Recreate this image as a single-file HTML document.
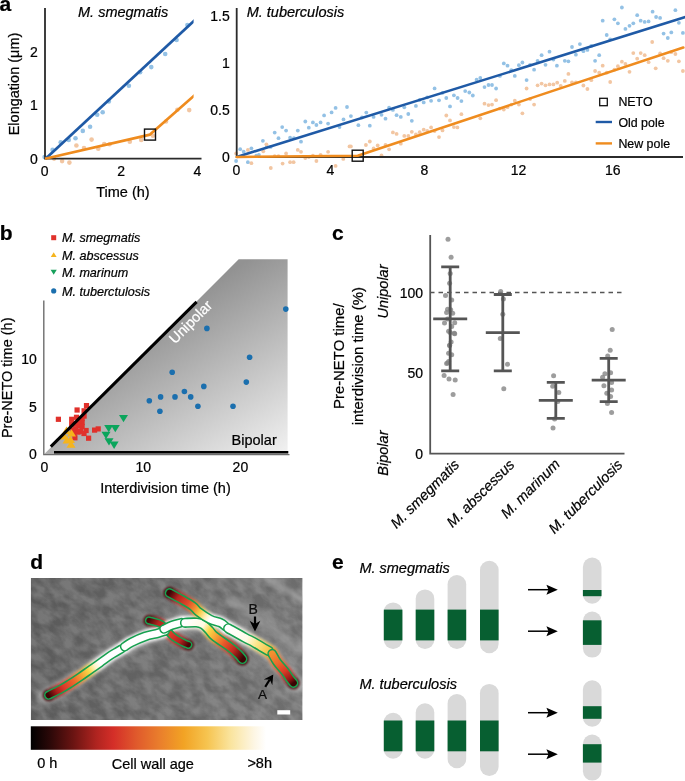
<!DOCTYPE html><html><head><meta charset="utf-8"><style>html,body{margin:0;padding:0;background:#fff;overflow:hidden}svg{display:block;will-change:transform}text{stroke:#000;stroke-width:0.22px}</style></head><body>
<svg width="685" height="781" viewBox="0 0 685 781" font-family='"Liberation Sans", sans-serif'>
<defs>
<linearGradient id="tri" gradientUnits="userSpaceOnUse" x1="245" y1="262" x2="352.4" y2="431.1"><stop offset="0" stop-color="#929292"/><stop offset="1" stop-color="#fafafa"/></linearGradient>
<linearGradient id="cbar" x1="0" y1="0" x2="1" y2="0"><stop offset="0" stop-color="#000000"/><stop offset="0.08" stop-color="#2a0808"/><stop offset="0.18" stop-color="#6a1412"/><stop offset="0.28" stop-color="#b02420"/><stop offset="0.35" stop-color="#d42e28"/><stop offset="0.45" stop-color="#e05a2c"/><stop offset="0.55" stop-color="#ea7f2c"/><stop offset="0.65" stop-color="#f2a324"/><stop offset="0.75" stop-color="#f6c450"/><stop offset="0.85" stop-color="#fae49e"/><stop offset="0.95" stop-color="#fdf6e4"/><stop offset="1" stop-color="#ffffff"/></linearGradient>
</defs>
<text x="-0.6" y="11.3" font-size="21" font-weight="bold">a</text>
<text x="78" y="16.8" font-size="14.5" font-style="italic">M. smegmatis</text>
<text x="246.7" y="17" font-size="14.5" font-style="italic">M. tuberculosis</text>
<circle cx="52.6" cy="149.9" r="2.3" fill="#93c1e5"/>
<circle cx="60.7" cy="142.3" r="2.3" fill="#93c1e5"/>
<circle cx="68.7" cy="139.9" r="2.3" fill="#93c1e5"/>
<circle cx="75.5" cy="138.2" r="2.3" fill="#93c1e5"/>
<circle cx="82.8" cy="130.9" r="2.3" fill="#93c1e5"/>
<circle cx="90.1" cy="126.8" r="2.3" fill="#93c1e5"/>
<circle cx="97.2" cy="114.8" r="2.3" fill="#93c1e5"/>
<circle cx="102.7" cy="112.2" r="2.3" fill="#93c1e5"/>
<circle cx="108.8" cy="101.4" r="2.3" fill="#93c1e5"/>
<circle cx="128.9" cy="85.8" r="2.3" fill="#93c1e5"/>
<circle cx="140.1" cy="72.2" r="2.3" fill="#93c1e5"/>
<circle cx="151.3" cy="67.1" r="2.3" fill="#93c1e5"/>
<circle cx="165.2" cy="54" r="2.3" fill="#93c1e5"/>
<circle cx="176.6" cy="40" r="2.3" fill="#93c1e5"/>
<circle cx="187.4" cy="25" r="2.3" fill="#93c1e5"/>
<circle cx="44.6" cy="157" r="2.3" fill="#93c1e5"/>
<circle cx="54.1" cy="158.6" r="2.3" fill="#f2c6a2"/>
<circle cx="62.1" cy="161.1" r="2.3" fill="#f2c6a2"/>
<circle cx="69.4" cy="162.6" r="2.3" fill="#f2c6a2"/>
<circle cx="76.4" cy="145.5" r="2.3" fill="#f2c6a2"/>
<circle cx="84" cy="148" r="2.3" fill="#f2c6a2"/>
<circle cx="91.6" cy="139.6" r="2.3" fill="#f2c6a2"/>
<circle cx="98.3" cy="148.8" r="2.3" fill="#f2c6a2"/>
<circle cx="104.2" cy="144" r="2.3" fill="#f2c6a2"/>
<circle cx="109.6" cy="144.3" r="2.3" fill="#f2c6a2"/>
<circle cx="129.8" cy="141.8" r="2.3" fill="#f2c6a2"/>
<circle cx="141.2" cy="139.9" r="2.3" fill="#f2c6a2"/>
<circle cx="152.9" cy="135.7" r="2.3" fill="#f2c6a2"/>
<circle cx="166" cy="121.5" r="2.3" fill="#f2c6a2"/>
<circle cx="177.4" cy="109.8" r="2.3" fill="#f2c6a2"/>
<circle cx="189.2" cy="110.1" r="2.3" fill="#f2c6a2"/>
<circle cx="236.1" cy="161" r="1.9" fill="#93c1e5"/>
<circle cx="240.2" cy="149.2" r="1.9" fill="#93c1e5"/>
<circle cx="243.7" cy="151.7" r="1.9" fill="#93c1e5"/>
<circle cx="247.9" cy="162.2" r="1.9" fill="#93c1e5"/>
<circle cx="251.4" cy="148.3" r="1.9" fill="#93c1e5"/>
<circle cx="256.3" cy="155.7" r="1.9" fill="#93c1e5"/>
<circle cx="258.9" cy="154.8" r="1.9" fill="#93c1e5"/>
<circle cx="262.9" cy="140.8" r="1.9" fill="#93c1e5"/>
<circle cx="266.8" cy="146.4" r="1.9" fill="#93c1e5"/>
<circle cx="270.6" cy="146.9" r="1.9" fill="#93c1e5"/>
<circle cx="274.7" cy="132.6" r="1.9" fill="#93c1e5"/>
<circle cx="278.5" cy="138.2" r="1.9" fill="#93c1e5"/>
<circle cx="282.2" cy="127.1" r="1.9" fill="#93c1e5"/>
<circle cx="286.1" cy="130.6" r="1.9" fill="#93c1e5"/>
<circle cx="290.1" cy="137.7" r="1.9" fill="#93c1e5"/>
<circle cx="293.9" cy="138.2" r="1.9" fill="#93c1e5"/>
<circle cx="297.8" cy="130.6" r="1.9" fill="#93c1e5"/>
<circle cx="301" cy="141.7" r="1.9" fill="#93c1e5"/>
<circle cx="305.3" cy="121.5" r="1.9" fill="#93c1e5"/>
<circle cx="308.8" cy="127.7" r="1.9" fill="#93c1e5"/>
<circle cx="312.9" cy="122.4" r="1.9" fill="#93c1e5"/>
<circle cx="316.4" cy="125" r="1.9" fill="#93c1e5"/>
<circle cx="320.6" cy="122.4" r="1.9" fill="#93c1e5"/>
<circle cx="324.1" cy="115.4" r="1.9" fill="#93c1e5"/>
<circle cx="328.1" cy="123.6" r="1.9" fill="#93c1e5"/>
<circle cx="331.6" cy="112.4" r="1.9" fill="#93c1e5"/>
<circle cx="335.6" cy="107.9" r="1.9" fill="#93c1e5"/>
<circle cx="339.5" cy="127.1" r="1.9" fill="#93c1e5"/>
<circle cx="343.5" cy="119.4" r="1.9" fill="#93c1e5"/>
<circle cx="347" cy="107" r="1.9" fill="#93c1e5"/>
<circle cx="350.9" cy="116.1" r="1.9" fill="#93c1e5"/>
<circle cx="358.4" cy="125.2" r="1.9" fill="#93c1e5"/>
<circle cx="361.9" cy="117.5" r="1.9" fill="#93c1e5"/>
<circle cx="366.3" cy="112.6" r="1.9" fill="#93c1e5"/>
<circle cx="369.8" cy="125.7" r="1.9" fill="#93c1e5"/>
<circle cx="373.6" cy="116.9" r="1.9" fill="#93c1e5"/>
<circle cx="381.5" cy="114.8" r="1.9" fill="#93c1e5"/>
<circle cx="385.5" cy="118.7" r="1.9" fill="#93c1e5"/>
<circle cx="389.1" cy="107.7" r="1.9" fill="#93c1e5"/>
<circle cx="392.9" cy="109.9" r="1.9" fill="#93c1e5"/>
<circle cx="396.6" cy="115.2" r="1.9" fill="#93c1e5"/>
<circle cx="400.8" cy="116.9" r="1.9" fill="#93c1e5"/>
<circle cx="404.3" cy="107.3" r="1.9" fill="#93c1e5"/>
<circle cx="408.3" cy="114" r="1.9" fill="#93c1e5"/>
<circle cx="411.8" cy="120.8" r="1.9" fill="#93c1e5"/>
<circle cx="415.9" cy="105.9" r="1.9" fill="#93c1e5"/>
<circle cx="419.7" cy="99.9" r="1.9" fill="#93c1e5"/>
<circle cx="423.7" cy="102.4" r="1.9" fill="#93c1e5"/>
<circle cx="427.2" cy="97.3" r="1.9" fill="#93c1e5"/>
<circle cx="431.1" cy="100.8" r="1.9" fill="#93c1e5"/>
<circle cx="434.6" cy="88.4" r="1.9" fill="#93c1e5"/>
<circle cx="439" cy="100.3" r="1.9" fill="#93c1e5"/>
<circle cx="442.5" cy="92.8" r="1.9" fill="#93c1e5"/>
<circle cx="446.3" cy="98" r="1.9" fill="#93c1e5"/>
<circle cx="450" cy="106.4" r="1.9" fill="#93c1e5"/>
<circle cx="453.9" cy="95.3" r="1.9" fill="#93c1e5"/>
<circle cx="457.6" cy="98" r="1.9" fill="#93c1e5"/>
<circle cx="461.4" cy="101.1" r="1.9" fill="#93c1e5"/>
<circle cx="465.2" cy="91.1" r="1.9" fill="#93c1e5"/>
<circle cx="469.3" cy="92.5" r="1.9" fill="#93c1e5"/>
<circle cx="472.8" cy="95.5" r="1.9" fill="#93c1e5"/>
<circle cx="476.6" cy="79.7" r="1.9" fill="#93c1e5"/>
<circle cx="480.3" cy="78" r="1.9" fill="#93c1e5"/>
<circle cx="484.5" cy="87.1" r="1.9" fill="#93c1e5"/>
<circle cx="488.5" cy="85" r="1.9" fill="#93c1e5"/>
<circle cx="492" cy="85" r="1.9" fill="#93c1e5"/>
<circle cx="496.1" cy="88.5" r="1.9" fill="#93c1e5"/>
<circle cx="499.9" cy="75.9" r="1.9" fill="#93c1e5"/>
<circle cx="503.8" cy="63.4" r="1.9" fill="#93c1e5"/>
<circle cx="507.5" cy="65.7" r="1.9" fill="#93c1e5"/>
<circle cx="511.3" cy="70.1" r="1.9" fill="#93c1e5"/>
<circle cx="514.8" cy="75.9" r="1.9" fill="#93c1e5"/>
<circle cx="518.9" cy="65.2" r="1.9" fill="#93c1e5"/>
<circle cx="522.4" cy="62.5" r="1.9" fill="#93c1e5"/>
<circle cx="526.6" cy="80.1" r="1.9" fill="#93c1e5"/>
<circle cx="530.1" cy="64.8" r="1.9" fill="#93c1e5"/>
<circle cx="534.1" cy="69.7" r="1.9" fill="#93c1e5"/>
<circle cx="537.6" cy="60.8" r="1.9" fill="#93c1e5"/>
<circle cx="541.6" cy="55.2" r="1.9" fill="#93c1e5"/>
<circle cx="545.5" cy="64.8" r="1.9" fill="#93c1e5"/>
<circle cx="549.5" cy="51.7" r="1.9" fill="#93c1e5"/>
<circle cx="553.4" cy="59.6" r="1.9" fill="#93c1e5"/>
<circle cx="556.9" cy="65.7" r="1.9" fill="#93c1e5"/>
<circle cx="564.8" cy="60.8" r="1.9" fill="#93c1e5"/>
<circle cx="568.4" cy="61.3" r="1.9" fill="#93c1e5"/>
<circle cx="572" cy="47" r="1.9" fill="#93c1e5"/>
<circle cx="575.9" cy="54.7" r="1.9" fill="#93c1e5"/>
<circle cx="579.9" cy="44.1" r="1.9" fill="#93c1e5"/>
<circle cx="583.4" cy="51.2" r="1.9" fill="#93c1e5"/>
<circle cx="587.4" cy="49.9" r="1.9" fill="#93c1e5"/>
<circle cx="591.3" cy="45.9" r="1.9" fill="#93c1e5"/>
<circle cx="595.1" cy="60.8" r="1.9" fill="#93c1e5"/>
<circle cx="599.2" cy="55.2" r="1.9" fill="#93c1e5"/>
<circle cx="602.7" cy="20.7" r="1.9" fill="#93c1e5"/>
<circle cx="606.7" cy="35" r="1.9" fill="#93c1e5"/>
<circle cx="610.2" cy="39.4" r="1.9" fill="#93c1e5"/>
<circle cx="614.4" cy="19.3" r="1.9" fill="#93c1e5"/>
<circle cx="617.9" cy="23.3" r="1.9" fill="#93c1e5"/>
<circle cx="621.9" cy="7.5" r="1.9" fill="#93c1e5"/>
<circle cx="625.4" cy="28.9" r="1.9" fill="#93c1e5"/>
<circle cx="629.5" cy="25.8" r="1.9" fill="#93c1e5"/>
<circle cx="633.3" cy="23.3" r="1.9" fill="#93c1e5"/>
<circle cx="637.2" cy="15.2" r="1.9" fill="#93c1e5"/>
<circle cx="640.7" cy="20.7" r="1.9" fill="#93c1e5"/>
<circle cx="644.7" cy="21.9" r="1.9" fill="#93c1e5"/>
<circle cx="648.6" cy="21.4" r="1.9" fill="#93c1e5"/>
<circle cx="652.6" cy="11.7" r="1.9" fill="#93c1e5"/>
<circle cx="656.1" cy="17" r="1.9" fill="#93c1e5"/>
<circle cx="660.1" cy="17.9" r="1.9" fill="#93c1e5"/>
<circle cx="663.6" cy="33.6" r="1.9" fill="#93c1e5"/>
<circle cx="667.8" cy="38" r="1.9" fill="#93c1e5"/>
<circle cx="671.3" cy="32.4" r="1.9" fill="#93c1e5"/>
<circle cx="675.4" cy="10.2" r="1.9" fill="#93c1e5"/>
<circle cx="678.9" cy="22.8" r="1.9" fill="#93c1e5"/>
<circle cx="682.9" cy="32.9" r="1.9" fill="#93c1e5"/>
<circle cx="236.1" cy="153.4" r="1.9" fill="#f2c6a2"/>
<circle cx="247.9" cy="149.9" r="1.9" fill="#f2c6a2"/>
<circle cx="251.4" cy="163.2" r="1.9" fill="#f2c6a2"/>
<circle cx="263.3" cy="151.3" r="1.9" fill="#f2c6a2"/>
<circle cx="266.4" cy="144.3" r="1.9" fill="#f2c6a2"/>
<circle cx="270.8" cy="168" r="1.9" fill="#f2c6a2"/>
<circle cx="274.7" cy="156.2" r="1.9" fill="#f2c6a2"/>
<circle cx="278.5" cy="156.2" r="1.9" fill="#f2c6a2"/>
<circle cx="282.6" cy="163.6" r="1.9" fill="#f2c6a2"/>
<circle cx="286.1" cy="153.4" r="1.9" fill="#f2c6a2"/>
<circle cx="290.1" cy="162.2" r="1.9" fill="#f2c6a2"/>
<circle cx="293.6" cy="162.2" r="1.9" fill="#f2c6a2"/>
<circle cx="297.8" cy="149.9" r="1.9" fill="#f2c6a2"/>
<circle cx="301" cy="151.8" r="1.9" fill="#f2c6a2"/>
<circle cx="305.3" cy="158" r="1.9" fill="#f2c6a2"/>
<circle cx="308.8" cy="157.1" r="1.9" fill="#f2c6a2"/>
<circle cx="312.9" cy="155.7" r="1.9" fill="#f2c6a2"/>
<circle cx="316.4" cy="161" r="1.9" fill="#f2c6a2"/>
<circle cx="320.6" cy="154.8" r="1.9" fill="#f2c6a2"/>
<circle cx="328.1" cy="151.8" r="1.9" fill="#f2c6a2"/>
<circle cx="335.6" cy="165.9" r="1.9" fill="#f2c6a2"/>
<circle cx="343.3" cy="158.9" r="1.9" fill="#f2c6a2"/>
<circle cx="350.9" cy="146.4" r="1.9" fill="#f2c6a2"/>
<circle cx="349.5" cy="146.4" r="1.9" fill="#f2c6a2"/>
<circle cx="365.9" cy="145" r="1.9" fill="#f2c6a2"/>
<circle cx="369.8" cy="141.5" r="1.9" fill="#f2c6a2"/>
<circle cx="373.6" cy="148.5" r="1.9" fill="#f2c6a2"/>
<circle cx="377.7" cy="145.5" r="1.9" fill="#f2c6a2"/>
<circle cx="381.5" cy="155.5" r="1.9" fill="#f2c6a2"/>
<circle cx="385.5" cy="145" r="1.9" fill="#f2c6a2"/>
<circle cx="389.1" cy="149.3" r="1.9" fill="#f2c6a2"/>
<circle cx="392.9" cy="132.4" r="1.9" fill="#f2c6a2"/>
<circle cx="396.6" cy="133.9" r="1.9" fill="#f2c6a2"/>
<circle cx="400.8" cy="143.7" r="1.9" fill="#f2c6a2"/>
<circle cx="404.3" cy="135.9" r="1.9" fill="#f2c6a2"/>
<circle cx="408.3" cy="135.9" r="1.9" fill="#f2c6a2"/>
<circle cx="411.8" cy="131.8" r="1.9" fill="#f2c6a2"/>
<circle cx="415.9" cy="134.5" r="1.9" fill="#f2c6a2"/>
<circle cx="419.7" cy="132.2" r="1.9" fill="#f2c6a2"/>
<circle cx="423.7" cy="129.7" r="1.9" fill="#f2c6a2"/>
<circle cx="427.2" cy="131" r="1.9" fill="#f2c6a2"/>
<circle cx="431.1" cy="127.4" r="1.9" fill="#f2c6a2"/>
<circle cx="434.6" cy="131" r="1.9" fill="#f2c6a2"/>
<circle cx="439" cy="137.1" r="1.9" fill="#f2c6a2"/>
<circle cx="442.5" cy="130.4" r="1.9" fill="#f2c6a2"/>
<circle cx="446.3" cy="115.5" r="1.9" fill="#f2c6a2"/>
<circle cx="450" cy="120.4" r="1.9" fill="#f2c6a2"/>
<circle cx="453.9" cy="127.1" r="1.9" fill="#f2c6a2"/>
<circle cx="457.4" cy="127.4" r="1.9" fill="#f2c6a2"/>
<circle cx="461.4" cy="114.2" r="1.9" fill="#f2c6a2"/>
<circle cx="480.3" cy="118.3" r="1.9" fill="#f2c6a2"/>
<circle cx="484.5" cy="103.7" r="1.9" fill="#f2c6a2"/>
<circle cx="488.5" cy="105.1" r="1.9" fill="#f2c6a2"/>
<circle cx="492" cy="104.6" r="1.9" fill="#f2c6a2"/>
<circle cx="496.1" cy="100.2" r="1.9" fill="#f2c6a2"/>
<circle cx="499.9" cy="108.6" r="1.9" fill="#f2c6a2"/>
<circle cx="503.8" cy="109.5" r="1.9" fill="#f2c6a2"/>
<circle cx="507.5" cy="107.2" r="1.9" fill="#f2c6a2"/>
<circle cx="511.3" cy="104.6" r="1.9" fill="#f2c6a2"/>
<circle cx="514.8" cy="100.7" r="1.9" fill="#f2c6a2"/>
<circle cx="518.9" cy="104.6" r="1.9" fill="#f2c6a2"/>
<circle cx="522.4" cy="113.3" r="1.9" fill="#f2c6a2"/>
<circle cx="526.6" cy="88.5" r="1.9" fill="#f2c6a2"/>
<circle cx="530.1" cy="99" r="1.9" fill="#f2c6a2"/>
<circle cx="534.1" cy="104.6" r="1.9" fill="#f2c6a2"/>
<circle cx="537.6" cy="85.3" r="1.9" fill="#f2c6a2"/>
<circle cx="541.6" cy="83.6" r="1.9" fill="#f2c6a2"/>
<circle cx="545.5" cy="85.3" r="1.9" fill="#f2c6a2"/>
<circle cx="549.5" cy="84.4" r="1.9" fill="#f2c6a2"/>
<circle cx="553.4" cy="84.4" r="1.9" fill="#f2c6a2"/>
<circle cx="557.2" cy="82.7" r="1.9" fill="#f2c6a2"/>
<circle cx="560.7" cy="85.8" r="1.9" fill="#f2c6a2"/>
<circle cx="564.8" cy="80.9" r="1.9" fill="#f2c6a2"/>
<circle cx="568.4" cy="73.9" r="1.9" fill="#f2c6a2"/>
<circle cx="572" cy="82.3" r="1.9" fill="#f2c6a2"/>
<circle cx="575.9" cy="82.3" r="1.9" fill="#f2c6a2"/>
<circle cx="583.4" cy="85.5" r="1.9" fill="#f2c6a2"/>
<circle cx="587.4" cy="89" r="1.9" fill="#f2c6a2"/>
<circle cx="591.3" cy="80.2" r="1.9" fill="#f2c6a2"/>
<circle cx="595.1" cy="71" r="1.9" fill="#f2c6a2"/>
<circle cx="599.2" cy="72.7" r="1.9" fill="#f2c6a2"/>
<circle cx="602.7" cy="65.7" r="1.9" fill="#f2c6a2"/>
<circle cx="606.7" cy="72.7" r="1.9" fill="#f2c6a2"/>
<circle cx="610.2" cy="82" r="1.9" fill="#f2c6a2"/>
<circle cx="614.4" cy="69.7" r="1.9" fill="#f2c6a2"/>
<circle cx="617.9" cy="66.2" r="1.9" fill="#f2c6a2"/>
<circle cx="621.9" cy="61.7" r="1.9" fill="#f2c6a2"/>
<circle cx="625.4" cy="63.9" r="1.9" fill="#f2c6a2"/>
<circle cx="629.5" cy="71.8" r="1.9" fill="#f2c6a2"/>
<circle cx="633.3" cy="53.1" r="1.9" fill="#f2c6a2"/>
<circle cx="637.2" cy="58.7" r="1.9" fill="#f2c6a2"/>
<circle cx="640.7" cy="53.1" r="1.9" fill="#f2c6a2"/>
<circle cx="644.7" cy="55.2" r="1.9" fill="#f2c6a2"/>
<circle cx="648.6" cy="62.2" r="1.9" fill="#f2c6a2"/>
<circle cx="652.2" cy="42" r="1.9" fill="#f2c6a2"/>
<circle cx="655.7" cy="68.3" r="1.9" fill="#f2c6a2"/>
<circle cx="660.1" cy="53.4" r="1.9" fill="#f2c6a2"/>
<circle cx="663.6" cy="58.2" r="1.9" fill="#f2c6a2"/>
<circle cx="667.8" cy="60.8" r="1.9" fill="#f2c6a2"/>
<circle cx="671.3" cy="52.2" r="1.9" fill="#f2c6a2"/>
<circle cx="675.4" cy="54" r="1.9" fill="#f2c6a2"/>
<circle cx="678.9" cy="61.3" r="1.9" fill="#f2c6a2"/>
<circle cx="682.9" cy="71" r="1.9" fill="#f2c6a2"/>
<path d="M45 8 V158.7 H201.5" fill="none" stroke="#2b2b2b" stroke-width="1.8"/>
<path d="M236.7 8 V157 H683" fill="none" stroke="#2b2b2b" stroke-width="1.8"/>
<clipPath id="cla"><rect x="40" y="0" width="153.6" height="170"/></clipPath>
<g clip-path="url(#cla)">
<path d="M45.3 159 L196 19.1" stroke="#1f5aa6" stroke-width="2.7" fill="none"/>
<path d="M45 158.7 L150 134.6 L196 94" stroke="#ef8c1f" stroke-width="2.7" fill="none" stroke-linejoin="round"/>
</g>
<path d="M236.7 157 L690 15.6" stroke="#1f5aa6" stroke-width="2.6" fill="none"/>
<path d="M236.7 157 L357.7 155.7 L683.3 47.5" stroke="#ef8c1f" stroke-width="2.6" fill="none" stroke-linejoin="round" stroke-linecap="round"/>
<rect x="144.5" y="129.1" width="11" height="11" fill="none" stroke="#111" stroke-width="1.4"/>
<rect x="352.2" y="150.2" width="11" height="11" fill="none" stroke="#111" stroke-width="1.4"/>
<text x="37.8" y="163.6" font-size="14" text-anchor="end">0</text>
<text x="37.8" y="110.3" font-size="14" text-anchor="end">1</text>
<text x="37.8" y="57" font-size="14" text-anchor="end">2</text>
<text x="44.6" y="175.9" font-size="14" text-anchor="middle">0</text>
<text x="121.1" y="175.9" font-size="14" text-anchor="middle">2</text>
<text x="197.3" y="175.9" font-size="14" text-anchor="middle">4</text>
<text x="229.8" y="162" font-size="14" text-anchor="end">0</text>
<text x="229.8" y="114.5" font-size="14" text-anchor="end">0.5</text>
<text x="229.8" y="67.8" font-size="14" text-anchor="end">1</text>
<text x="229.8" y="21.4" font-size="14" text-anchor="end">1.5</text>
<text x="236.5" y="175" font-size="14" text-anchor="middle">0</text>
<text x="330.5" y="175" font-size="14" text-anchor="middle">4</text>
<text x="424.5" y="175" font-size="14" text-anchor="middle">8</text>
<text x="518.6" y="175" font-size="14" text-anchor="middle">12</text>
<text x="612.7" y="175" font-size="14" text-anchor="middle">16</text>
<text x="122.9" y="196.7" font-size="14.5" text-anchor="middle">Time (h)</text>
<text transform="translate(18.5 84) rotate(-90)" font-size="14.5" text-anchor="middle">Elongation (μm)</text>
<rect x="599.7" y="98.3" width="7.6" height="7.4" fill="none" stroke="#111" stroke-width="1.3"/>
<text x="618.4" y="106" font-size="12.4">NETO</text>
<line x1="595.7" y1="122" x2="612" y2="122" stroke="#1f5aa6" stroke-width="2.4"/>
<text x="618.4" y="127" font-size="12.4">Old pole</text>
<line x1="595.7" y1="143.4" x2="612" y2="143.4" stroke="#ef8c1f" stroke-width="2.4"/>
<text x="618.4" y="148" font-size="12.4">New pole</text>
<text x="-0.3" y="240.4" font-size="21" font-weight="bold">b</text>
<polygon points="43.8,454.6 238.7,259.2 287.6,259.2 287.6,454.6" fill="url(#tri)"/>
<path d="M43.8 300.4 V454.6 H289.5" fill="none" stroke="#6e6e6e" stroke-width="1.4"/>
<text transform="translate(175 344.5) rotate(-45)" font-size="14.5" fill="#fff" style="stroke:#fff">Unipolar</text>
<text x="231.6" y="445.2" font-size="14.5">Bipolar</text>
<rect x="55.8" y="416.7" width="5.2" height="5.2" fill="#e0312b"/>
<rect x="74.5" y="407.4" width="5.2" height="5.2" fill="#e0312b"/>
<rect x="83.9" y="403.0" width="5.2" height="5.2" fill="#e0312b"/>
<rect x="81.5" y="408.2" width="5.2" height="5.2" fill="#e0312b"/>
<rect x="81.5" y="413.5" width="5.2" height="5.2" fill="#e0312b"/>
<rect x="69.10000000000001" y="416.7" width="5.2" height="5.2" fill="#e0312b"/>
<rect x="73.9" y="414.7" width="5.2" height="5.2" fill="#e0312b"/>
<rect x="79.5" y="415.9" width="5.2" height="5.2" fill="#e0312b"/>
<rect x="69.10000000000001" y="421.5" width="5.2" height="5.2" fill="#e0312b"/>
<rect x="79.5" y="419.9" width="5.2" height="5.2" fill="#e0312b"/>
<rect x="76.30000000000001" y="423.09999999999997" width="5.2" height="5.2" fill="#e0312b"/>
<rect x="79.5" y="423.9" width="5.2" height="5.2" fill="#e0312b"/>
<rect x="73.10000000000001" y="426.29999999999995" width="5.2" height="5.2" fill="#e0312b"/>
<rect x="77.9" y="428.7" width="5.2" height="5.2" fill="#e0312b"/>
<rect x="83.5" y="427.9" width="5.2" height="5.2" fill="#e0312b"/>
<rect x="92.0" y="427.5" width="5.2" height="5.2" fill="#e0312b"/>
<rect x="95.60000000000001" y="426.29999999999995" width="5.2" height="5.2" fill="#e0312b"/>
<rect x="86.0" y="435.59999999999997" width="5.2" height="5.2" fill="#e0312b"/>
<rect x="72.30000000000001" y="435.2" width="5.2" height="5.2" fill="#e0312b"/>
<rect x="71.5" y="431.09999999999997" width="5.2" height="5.2" fill="#e0312b"/>
<rect x="75.5" y="429.5" width="5.2" height="5.2" fill="#e0312b"/>
<rect x="76.4" y="418.4" width="5.2" height="5.2" fill="#e0312b"/>
<rect x="72.4" y="421.4" width="5.2" height="5.2" fill="#e0312b"/>
<rect x="81.4" y="430.9" width="5.2" height="5.2" fill="#e0312b"/>
<rect x="70.4" y="427.4" width="5.2" height="5.2" fill="#e0312b"/>
<path d="M62.0 433.90000000000003 L71.0 433.90000000000003 L66.5 426.6Z" fill="#f5b41d"/>
<path d="M67.0 436.6 L76.0 436.6 L71.5 429.3Z" fill="#f5b41d"/>
<path d="M59.5 439.6 L68.5 439.6 L64 432.3Z" fill="#f5b41d"/>
<path d="M66.0 443.1 L75.0 443.1 L70.5 435.8Z" fill="#f5b41d"/>
<path d="M66.5 447.8 L75.5 447.8 L71 440.5Z" fill="#f5b41d"/>
<path d="M62.5 443.6 L71.5 443.6 L67 436.3Z" fill="#f5b41d"/>
<path d="M119.0 414.9 L128.0 414.9 L123.5 422.2Z" fill="#0ba55c"/>
<path d="M104.2 425.0 L113.2 425.0 L108.7 432.3Z" fill="#0ba55c"/>
<path d="M110.8 425.0 L119.8 425.0 L115.3 432.3Z" fill="#0ba55c"/>
<path d="M101.5 431.79999999999995 L110.5 431.79999999999995 L106 439.09999999999997Z" fill="#0ba55c"/>
<path d="M104.5 438.29999999999995 L113.5 438.29999999999995 L109 445.59999999999997Z" fill="#0ba55c"/>
<path d="M109.6 441.59999999999997 L118.6 441.59999999999997 L114.1 448.9Z" fill="#0ba55c"/>
<circle cx="285.8" cy="309.1" r="2.8" fill="#1b6fae"/>
<circle cx="206.9" cy="328.4" r="2.8" fill="#1b6fae"/>
<circle cx="249.6" cy="357.3" r="2.8" fill="#1b6fae"/>
<circle cx="172.2" cy="372.3" r="2.8" fill="#1b6fae"/>
<circle cx="246.3" cy="382.1" r="2.8" fill="#1b6fae"/>
<circle cx="203.8" cy="386.4" r="2.8" fill="#1b6fae"/>
<circle cx="184.4" cy="391.5" r="2.8" fill="#1b6fae"/>
<circle cx="149.3" cy="400.8" r="2.8" fill="#1b6fae"/>
<circle cx="160.6" cy="396.9" r="2.8" fill="#1b6fae"/>
<circle cx="175" cy="396.9" r="2.8" fill="#1b6fae"/>
<circle cx="190.7" cy="396.9" r="2.8" fill="#1b6fae"/>
<circle cx="159.9" cy="411.3" r="2.8" fill="#1b6fae"/>
<circle cx="197.9" cy="406.2" r="2.8" fill="#1b6fae"/>
<circle cx="233" cy="406.2" r="2.8" fill="#1b6fae"/>
<line x1="50.8" y1="446.6" x2="196.6" y2="301.9" stroke="#000" stroke-width="3"/>
<line x1="54" y1="452.2" x2="288.3" y2="452.2" stroke="#000" stroke-width="2.6"/>
<rect x="51.2" y="235.2" width="5" height="5" fill="#e0312b"/>
<path d="M50.8 257 L56.6 257 L53.7 252.2Z" fill="#f5b41d"/>
<path d="M50.6 269.8 L56.8 269.8 L53.7 274.8Z" fill="#17a05b"/>
<circle cx="53.7" cy="290.9" r="2.6" fill="#1b6fae"/>
<text x="61.9" y="242" font-size="12.6" font-style="italic">M. smegmatis</text>
<text x="61.9" y="259.5" font-size="12.6" font-style="italic">M. abscessus</text>
<text x="61.9" y="277" font-size="12.6" font-style="italic">M. marinum</text>
<text x="61.9" y="295.5" font-size="12.6" font-style="italic">M. tuberctulosis</text>
<text x="36.8" y="459.3" font-size="14" text-anchor="end">0</text>
<text x="36.8" y="411.7" font-size="14" text-anchor="end">5</text>
<text x="36.8" y="363.7" font-size="14" text-anchor="end">10</text>
<text x="44.3" y="472" font-size="14" text-anchor="middle">0</text>
<text x="143.2" y="472" font-size="14" text-anchor="middle">10</text>
<text x="240.4" y="472" font-size="14" text-anchor="middle">20</text>
<text x="100.2" y="493" font-size="14.5">Interdivision time (h)</text>
<text transform="translate(12 377.8) rotate(-90)" font-size="14.5" text-anchor="middle">Pre-NETO time (h)</text>
<text x="332" y="240.4" font-size="21" font-weight="bold">c</text>
<line x1="430" y1="292.5" x2="623" y2="292.5" stroke="#555" stroke-width="1.3" stroke-dasharray="4.5 4"/>
<circle cx="448" cy="239.3" r="2.5" fill="#858585" fill-opacity="0.8"/>
<circle cx="451.1" cy="257.3" r="2.5" fill="#858585" fill-opacity="0.8"/>
<circle cx="450.2" cy="273.6" r="2.5" fill="#858585" fill-opacity="0.8"/>
<circle cx="449.6" cy="283.2" r="2.5" fill="#858585" fill-opacity="0.8"/>
<circle cx="445.5" cy="295.5" r="2.5" fill="#858585" fill-opacity="0.8"/>
<circle cx="451.7" cy="300" r="2.5" fill="#858585" fill-opacity="0.8"/>
<circle cx="447.6" cy="309.2" r="2.5" fill="#858585" fill-opacity="0.8"/>
<circle cx="450.7" cy="309.8" r="2.5" fill="#858585" fill-opacity="0.8"/>
<circle cx="446.6" cy="312.5" r="2.5" fill="#858585" fill-opacity="0.8"/>
<circle cx="452.7" cy="313.3" r="2.5" fill="#858585" fill-opacity="0.8"/>
<circle cx="447.6" cy="319" r="2.5" fill="#858585" fill-opacity="0.8"/>
<circle cx="444.5" cy="323.1" r="2.5" fill="#858585" fill-opacity="0.8"/>
<circle cx="454.7" cy="322.7" r="2.5" fill="#858585" fill-opacity="0.8"/>
<circle cx="451.7" cy="326.6" r="2.5" fill="#858585" fill-opacity="0.8"/>
<circle cx="448.6" cy="331.3" r="2.5" fill="#858585" fill-opacity="0.8"/>
<circle cx="454.3" cy="333.3" r="2.5" fill="#858585" fill-opacity="0.8"/>
<circle cx="451.1" cy="341.9" r="2.5" fill="#858585" fill-opacity="0.8"/>
<circle cx="449.6" cy="345.6" r="2.5" fill="#858585" fill-opacity="0.8"/>
<circle cx="448.6" cy="353.3" r="2.5" fill="#858585" fill-opacity="0.8"/>
<circle cx="451.7" cy="354.8" r="2.5" fill="#858585" fill-opacity="0.8"/>
<circle cx="448.6" cy="361.5" r="2.5" fill="#858585" fill-opacity="0.8"/>
<circle cx="446.6" cy="363.6" r="2.5" fill="#858585" fill-opacity="0.8"/>
<circle cx="450.2" cy="332.5" r="2.5" fill="#858585" fill-opacity="0.8"/>
<circle cx="454.7" cy="333.7" r="2.5" fill="#858585" fill-opacity="0.8"/>
<circle cx="449.6" cy="345.3" r="2.5" fill="#858585" fill-opacity="0.8"/>
<circle cx="447.6" cy="363.1" r="2.5" fill="#858585" fill-opacity="0.8"/>
<circle cx="444.1" cy="375.4" r="2.5" fill="#858585" fill-opacity="0.8"/>
<circle cx="449" cy="379" r="2.5" fill="#858585" fill-opacity="0.8"/>
<circle cx="455.2" cy="380.1" r="2.5" fill="#858585" fill-opacity="0.8"/>
<circle cx="453.1" cy="394.4" r="2.5" fill="#858585" fill-opacity="0.8"/>
<circle cx="500.7" cy="291.4" r="2.5" fill="#858585" fill-opacity="0.8"/>
<circle cx="503.4" cy="299" r="2.5" fill="#858585" fill-opacity="0.8"/>
<circle cx="502.8" cy="314.3" r="2.5" fill="#858585" fill-opacity="0.8"/>
<circle cx="500.3" cy="338.4" r="2.5" fill="#858585" fill-opacity="0.8"/>
<circle cx="507.5" cy="364.3" r="2.5" fill="#858585" fill-opacity="0.8"/>
<circle cx="503.8" cy="388.7" r="2.5" fill="#858585" fill-opacity="0.8"/>
<circle cx="553.6" cy="375.7" r="2.5" fill="#858585" fill-opacity="0.8"/>
<circle cx="552.7" cy="386.2" r="2.5" fill="#858585" fill-opacity="0.8"/>
<circle cx="558.8" cy="392.6" r="2.5" fill="#858585" fill-opacity="0.8"/>
<circle cx="557.8" cy="401.6" r="2.5" fill="#858585" fill-opacity="0.8"/>
<circle cx="554.6" cy="418.9" r="2.5" fill="#858585" fill-opacity="0.8"/>
<circle cx="553" cy="428.1" r="2.5" fill="#858585" fill-opacity="0.8"/>
<circle cx="612.2" cy="329.6" r="2.5" fill="#858585" fill-opacity="0.8"/>
<circle cx="610.2" cy="350.3" r="2.5" fill="#858585" fill-opacity="0.8"/>
<circle cx="607.7" cy="356.1" r="2.5" fill="#858585" fill-opacity="0.8"/>
<circle cx="604.9" cy="373.8" r="2.5" fill="#858585" fill-opacity="0.8"/>
<circle cx="610.6" cy="372.8" r="2.5" fill="#858585" fill-opacity="0.8"/>
<circle cx="602.6" cy="377.2" r="2.5" fill="#858585" fill-opacity="0.8"/>
<circle cx="611.6" cy="382.4" r="2.5" fill="#858585" fill-opacity="0.8"/>
<circle cx="603.9" cy="385.7" r="2.5" fill="#858585" fill-opacity="0.8"/>
<circle cx="611.6" cy="390.1" r="2.5" fill="#858585" fill-opacity="0.8"/>
<circle cx="606.8" cy="393.3" r="2.5" fill="#858585" fill-opacity="0.8"/>
<circle cx="610.6" cy="396.4" r="2.5" fill="#858585" fill-opacity="0.8"/>
<circle cx="607.4" cy="403.5" r="2.5" fill="#858585" fill-opacity="0.8"/>
<circle cx="611.6" cy="412.5" r="2.5" fill="#858585" fill-opacity="0.8"/>
<path d="M450.2 266.9 V370.9 M441.2 266.9 H459.2 M441.2 370.9 H459.2 M433.2 318.8 H467.2" stroke="#555" stroke-width="2.8" fill="none"/>
<path d="M502.8 294.5 V370.9 M493.8 294.5 H511.8 M493.8 370.9 H511.8 M485.8 332.7 H519.8" stroke="#555" stroke-width="2.8" fill="none"/>
<path d="M555.8 382.3 V418.4 M546.8 382.3 H564.8 M546.8 418.4 H564.8 M538.8 400.3 H572.8" stroke="#555" stroke-width="2.8" fill="none"/>
<path d="M608.7 358.4 V401.6 M599.7 358.4 H617.7 M599.7 401.6 H617.7 M591.7 380.1 H625.7" stroke="#555" stroke-width="2.8" fill="none"/>
<path d="M430.2 235 V453.7 H624.5" fill="none" stroke="#555" stroke-width="1.8"/>
<text x="423" y="458.8" font-size="14" text-anchor="end">0</text>
<text x="423" y="378" font-size="14" text-anchor="end">50</text>
<text x="423" y="297.8" font-size="14" text-anchor="end">100</text>
<text transform="translate(344.2 356.2) rotate(-90)" font-size="14.9" text-anchor="middle">Pre-NETO time/</text>
<text transform="translate(363.2 356.2) rotate(-90)" font-size="14.9" text-anchor="middle">interdivision time (%)</text>
<text transform="translate(388 291.5) rotate(-90)" font-size="14.5" font-style="italic" text-anchor="middle">Unipolar</text>
<text transform="translate(388 453.1) rotate(-90)" font-size="14.5" font-style="italic" text-anchor="middle">Bipolar</text>
<text transform="translate(460.2 465.5) rotate(-45)" font-size="14.5" font-style="italic" text-anchor="end">M. smegmatis</text>
<text transform="translate(515.3 465.5) rotate(-45)" font-size="14.5" font-style="italic" text-anchor="end">M. abscessus</text>
<text transform="translate(560.9 465) rotate(-45)" font-size="14.5" font-style="italic" text-anchor="end">M. marinum</text>
<text transform="translate(623.5 465.5) rotate(-45)" font-size="14.5" font-style="italic" text-anchor="end">M. tuberculosis</text>
<text x="30.3" y="568.8" font-size="21" font-weight="bold">d</text>
<defs><clipPath id="imgclip"><rect x="30.8" y="578" width="271.8" height="142"/></clipPath><filter id="noise" x="0" y="0" width="100%" height="100%" color-interpolation-filters="sRGB"><feTurbulence type="fractalNoise" baseFrequency="0.11 0.065" numOctaves="4" seed="11" result="t"/><feColorMatrix type="matrix" values="2.2 0 0 0 -0.6  2.2 0 0 0 -0.6  2.2 0 0 0 -0.6  0 0 0 0 1" /></filter><filter id="blur2" filterUnits="userSpaceOnUse" x="20" y="570" width="290" height="160"><feGaussianBlur stdDeviation="2.5"/></filter><filter id="blur1" filterUnits="userSpaceOnUse" x="20" y="570" width="290" height="160"><feGaussianBlur stdDeviation="0.9"/></filter></defs>
<g clip-path="url(#imgclip)">
<linearGradient id="bgd" gradientUnits="userSpaceOnUse" x1="40" y1="600" x2="300" y2="650"><stop offset="0" stop-color="#666666"/><stop offset="1" stop-color="#7c7c7c"/></linearGradient>
<rect x="30.8" y="578" width="271.8" height="142" fill="url(#bgd)"/>
<rect x="-20" y="480" width="380" height="340" filter="url(#noise)" opacity="0.11" transform="rotate(-55 166 648)"/>
<g filter="url(#blur2)" fill="none" stroke-linecap="round" stroke-linejoin="round">
<path d="M44 697 L75 680 L110 655 L150 636 L185 622 L230 628 L270 653 L298 686" stroke="#c8c8c8" stroke-width="14" opacity="0.55"/>
<path d="M266 577 L304 601" stroke="#b4b4b4" stroke-width="4" opacity="0.8"/>
<path d="M232 600 L300 650" stroke="#a8a8a8" stroke-width="10" opacity="0.5"/>
</g>
<path d="M149 620.5 C151.15 621.20 157.93 622.05 161.9 624.7 C165.87 627.35 169.15 633.35 172.8 636.4 C176.45 639.45 181.22 641.60 183.8 643 C186.38 644.40 187.55 644.50 188.3 644.8" fill="none" stroke="#d8d8d8" stroke-opacity="0.14" stroke-width="15.4" stroke-linecap="round" stroke-linejoin="round" filter="url(#blur2)"/>
<path d="M48.6 695.2 C50.67 694.17 57.43 690.93 61 689 C64.57 687.07 66.83 685.60 70 683.6 C73.17 681.60 76.67 679.27 80 677 C83.33 674.73 86.67 672.33 90 670 C93.33 667.67 96.67 665.38 100 663 C103.33 660.62 107.02 657.70 110 655.7 C112.98 653.70 115.97 652.15 117.9 651 C119.83 649.85 120.98 649.17 121.6 648.8" fill="none" stroke="#d8d8d8" stroke-opacity="0.14" stroke-width="16.2" stroke-linecap="round" stroke-linejoin="round" filter="url(#blur2)"/>
<path d="M124.8 646.6 C125.88 645.90 127.93 644.08 131.3 642.4 C134.67 640.72 140.55 638.02 145 636.5 C149.45 634.98 154.67 634.22 158 633.3 C161.33 632.38 163.83 631.38 165 631" fill="none" stroke="#d8d8d8" stroke-opacity="0.14" stroke-width="16.8" stroke-linecap="round" stroke-linejoin="round" filter="url(#blur2)"/>
<path d="M164 629 C165.33 628.38 169.07 626.38 172 625.3 C174.93 624.22 180.00 622.97 181.6 622.5" fill="none" stroke="#d8d8d8" stroke-opacity="0.14" stroke-width="16.6" stroke-linecap="round" stroke-linejoin="round" filter="url(#blur2)"/>
<path d="M185 622.8 C186.92 622.75 193.50 622.22 196.5 622.5 C199.50 622.78 200.92 623.25 203 624.5 C205.08 625.75 207.07 628.03 209 630 C210.93 631.97 211.23 633.55 214.6 636.3 C217.97 639.05 225.30 643.55 229.2 646.5 C233.10 649.45 235.82 651.92 238 654 C240.18 656.08 241.58 658.17 242.3 659" fill="none" stroke="#d8d8d8" stroke-opacity="0.14" stroke-width="17.2" stroke-linecap="round" stroke-linejoin="round" filter="url(#blur2)"/>
<path d="M169.6 593 C171.65 594.10 178.03 597.40 181.9 599.6 C185.77 601.80 190.00 604.13 192.8 606.2 C195.60 608.27 195.83 609.82 198.7 612 C201.57 614.18 206.37 617.50 210 619.3 C213.63 621.10 217.95 621.65 220.5 622.8 C223.05 623.95 224.50 625.63 225.3 626.2" fill="none" stroke="#d8d8d8" stroke-opacity="0.14" stroke-width="16.8" stroke-linecap="round" stroke-linejoin="round" filter="url(#blur2)"/>
<path d="M228.3 628.4 C231.08 629.95 240.88 635.47 245 637.7 C249.12 639.93 250.33 640.33 253 641.8 C255.67 643.27 258.37 644.97 261 646.5 C263.63 648.03 267.50 650.25 268.8 651" fill="none" stroke="#d8d8d8" stroke-opacity="0.14" stroke-width="17.4" stroke-linecap="round" stroke-linejoin="round" filter="url(#blur2)"/>
<path d="M272.2 653.7 C273.02 655.10 274.93 659.08 277.1 662.1 C279.27 665.12 283.08 669.07 285.2 671.8 C287.32 674.53 288.42 676.63 289.8 678.5 C291.18 680.37 292.88 682.25 293.5 683" fill="none" stroke="#d8d8d8" stroke-opacity="0.14" stroke-width="16.8" stroke-linecap="round" stroke-linejoin="round" filter="url(#blur2)"/>
<linearGradient id="cgg0" gradientUnits="userSpaceOnUse" x1="149" y1="620.5" x2="188.3" y2="644.8"><stop offset="0" stop-color="#4a0808"/><stop offset="0.2" stop-color="#b42420"/><stop offset="0.5" stop-color="#e0442c"/><stop offset="0.8" stop-color="#b82420"/><stop offset="1" stop-color="#4a0606"/></linearGradient>
<path d="M149 620.5 C151.15 621.20 157.93 622.05 161.9 624.7 C165.87 627.35 169.15 633.35 172.8 636.4 C176.45 639.45 181.22 641.60 183.8 643 C186.38 644.40 187.55 644.50 188.3 644.8" fill="none" stroke="url(#cgg0)" stroke-opacity="0.75" stroke-width="11.9" stroke-linecap="round" stroke-linejoin="round" filter="url(#blur1)"/>
<linearGradient id="cgg1" gradientUnits="userSpaceOnUse" x1="48.6" y1="695.2" x2="121.6" y2="648.8"><stop offset="0" stop-color="#3a0505"/><stop offset="0.1" stop-color="#a81e1a"/><stop offset="0.2" stop-color="#dc3a2a"/><stop offset="0.34" stop-color="#ec6a2c"/><stop offset="0.44" stop-color="#f4a034"/><stop offset="0.54" stop-color="#f8d848"/><stop offset="0.63" stop-color="#fff4c8"/><stop offset="0.7" stop-color="#ffffff"/><stop offset="1" stop-color="#ffffff"/></linearGradient>
<path d="M48.6 695.2 C50.67 694.17 57.43 690.93 61 689 C64.57 687.07 66.83 685.60 70 683.6 C73.17 681.60 76.67 679.27 80 677 C83.33 674.73 86.67 672.33 90 670 C93.33 667.67 96.67 665.38 100 663 C103.33 660.62 107.02 657.70 110 655.7 C112.98 653.70 115.97 652.15 117.9 651 C119.83 649.85 120.98 649.17 121.6 648.8" fill="none" stroke="url(#cgg1)" stroke-opacity="0.75" stroke-width="12.7" stroke-linecap="round" stroke-linejoin="round" filter="url(#blur1)"/>
<linearGradient id="cgg2" gradientUnits="userSpaceOnUse" x1="124.8" y1="646.6" x2="165" y2="631"><stop offset="0" stop-color="#ffffff"/><stop offset="1" stop-color="#ffffff"/></linearGradient>
<path d="M124.8 646.6 C125.88 645.90 127.93 644.08 131.3 642.4 C134.67 640.72 140.55 638.02 145 636.5 C149.45 634.98 154.67 634.22 158 633.3 C161.33 632.38 163.83 631.38 165 631" fill="none" stroke="url(#cgg2)" stroke-opacity="0.75" stroke-width="13.3" stroke-linecap="round" stroke-linejoin="round" filter="url(#blur1)"/>
<linearGradient id="cgg3" gradientUnits="userSpaceOnUse" x1="164" y1="629" x2="181.6" y2="622.5"><stop offset="0" stop-color="#ffffff"/><stop offset="1" stop-color="#ffffff"/></linearGradient>
<path d="M164 629 C165.33 628.38 169.07 626.38 172 625.3 C174.93 624.22 180.00 622.97 181.6 622.5" fill="none" stroke="url(#cgg3)" stroke-opacity="0.75" stroke-width="13.1" stroke-linecap="round" stroke-linejoin="round" filter="url(#blur1)"/>
<linearGradient id="cgg4" gradientUnits="userSpaceOnUse" x1="185" y1="622.8" x2="242.3" y2="659"><stop offset="0" stop-color="#ffffff"/><stop offset="0.25" stop-color="#fffae0"/><stop offset="0.36" stop-color="#f8d848"/><stop offset="0.5" stop-color="#f4a034"/><stop offset="0.65" stop-color="#e8582a"/><stop offset="0.82" stop-color="#c02a20"/><stop offset="1" stop-color="#3a0404"/></linearGradient>
<path d="M185 622.8 C186.92 622.75 193.50 622.22 196.5 622.5 C199.50 622.78 200.92 623.25 203 624.5 C205.08 625.75 207.07 628.03 209 630 C210.93 631.97 211.23 633.55 214.6 636.3 C217.97 639.05 225.30 643.55 229.2 646.5 C233.10 649.45 235.82 651.92 238 654 C240.18 656.08 241.58 658.17 242.3 659" fill="none" stroke="url(#cgg4)" stroke-opacity="0.75" stroke-width="13.7" stroke-linecap="round" stroke-linejoin="round" filter="url(#blur1)"/>
<linearGradient id="cgg5" gradientUnits="userSpaceOnUse" x1="169.6" y1="593" x2="225.3" y2="626.2"><stop offset="0" stop-color="#3a0505"/><stop offset="0.15" stop-color="#b82620"/><stop offset="0.32" stop-color="#e0482a"/><stop offset="0.45" stop-color="#f08a30"/><stop offset="0.55" stop-color="#f8cc48"/><stop offset="0.66" stop-color="#fff0b8"/><stop offset="0.74" stop-color="#ffffff"/><stop offset="1" stop-color="#ffffff"/></linearGradient>
<path d="M169.6 593 C171.65 594.10 178.03 597.40 181.9 599.6 C185.77 601.80 190.00 604.13 192.8 606.2 C195.60 608.27 195.83 609.82 198.7 612 C201.57 614.18 206.37 617.50 210 619.3 C213.63 621.10 217.95 621.65 220.5 622.8 C223.05 623.95 224.50 625.63 225.3 626.2" fill="none" stroke="url(#cgg5)" stroke-opacity="0.75" stroke-width="13.3" stroke-linecap="round" stroke-linejoin="round" filter="url(#blur1)"/>
<linearGradient id="cgg6" gradientUnits="userSpaceOnUse" x1="228.3" y1="628.4" x2="268.8" y2="651"><stop offset="0" stop-color="#ffffff"/><stop offset="0.45" stop-color="#fffbe8"/><stop offset="0.7" stop-color="#fbe68a"/><stop offset="1" stop-color="#f6c24a"/></linearGradient>
<path d="M228.3 628.4 C231.08 629.95 240.88 635.47 245 637.7 C249.12 639.93 250.33 640.33 253 641.8 C255.67 643.27 258.37 644.97 261 646.5 C263.63 648.03 267.50 650.25 268.8 651" fill="none" stroke="url(#cgg6)" stroke-opacity="0.75" stroke-width="13.9" stroke-linecap="round" stroke-linejoin="round" filter="url(#blur1)"/>
<linearGradient id="cgg7" gradientUnits="userSpaceOnUse" x1="272.2" y1="653.7" x2="293.5" y2="683"><stop offset="0" stop-color="#f09030"/><stop offset="0.3" stop-color="#ea6a2c"/><stop offset="0.6" stop-color="#d83a26"/><stop offset="0.85" stop-color="#961818"/><stop offset="1" stop-color="#3a0404"/></linearGradient>
<path d="M272.2 653.7 C273.02 655.10 274.93 659.08 277.1 662.1 C279.27 665.12 283.08 669.07 285.2 671.8 C287.32 674.53 288.42 676.63 289.8 678.5 C291.18 680.37 292.88 682.25 293.5 683" fill="none" stroke="url(#cgg7)" stroke-opacity="0.75" stroke-width="13.3" stroke-linecap="round" stroke-linejoin="round" filter="url(#blur1)"/>
<linearGradient id="cg0" gradientUnits="userSpaceOnUse" x1="149" y1="620.5" x2="188.3" y2="644.8"><stop offset="0" stop-color="#4a0808"/><stop offset="0.2" stop-color="#b42420"/><stop offset="0.5" stop-color="#e0442c"/><stop offset="0.8" stop-color="#b82420"/><stop offset="1" stop-color="#4a0606"/></linearGradient>
<path d="M149 620.5 C151.15 621.20 157.93 622.05 161.9 624.7 C165.87 627.35 169.15 633.35 172.8 636.4 C176.45 639.45 181.22 641.60 183.8 643 C186.38 644.40 187.55 644.50 188.3 644.8" fill="none" stroke="#17a050" stroke-width="8.4" stroke-linecap="round" stroke-linejoin="round"/>
<path d="M149 620.5 C151.15 621.20 157.93 622.05 161.9 624.7 C165.87 627.35 169.15 633.35 172.8 636.4 C176.45 639.45 181.22 641.60 183.8 643 C186.38 644.40 187.55 644.50 188.3 644.8" fill="none" stroke="url(#cg0)" stroke-width="5.300000000000001" stroke-linecap="round" stroke-linejoin="round"/>
<linearGradient id="cg1" gradientUnits="userSpaceOnUse" x1="48.6" y1="695.2" x2="121.6" y2="648.8"><stop offset="0" stop-color="#3a0505"/><stop offset="0.1" stop-color="#a81e1a"/><stop offset="0.2" stop-color="#dc3a2a"/><stop offset="0.34" stop-color="#ec6a2c"/><stop offset="0.44" stop-color="#f4a034"/><stop offset="0.54" stop-color="#f8d848"/><stop offset="0.63" stop-color="#fff4c8"/><stop offset="0.7" stop-color="#ffffff"/><stop offset="1" stop-color="#ffffff"/></linearGradient>
<path d="M48.6 695.2 C50.67 694.17 57.43 690.93 61 689 C64.57 687.07 66.83 685.60 70 683.6 C73.17 681.60 76.67 679.27 80 677 C83.33 674.73 86.67 672.33 90 670 C93.33 667.67 96.67 665.38 100 663 C103.33 660.62 107.02 657.70 110 655.7 C112.98 653.70 115.97 652.15 117.9 651 C119.83 649.85 120.98 649.17 121.6 648.8" fill="none" stroke="#17a050" stroke-width="9.2" stroke-linecap="round" stroke-linejoin="round"/>
<path d="M48.6 695.2 C50.67 694.17 57.43 690.93 61 689 C64.57 687.07 66.83 685.60 70 683.6 C73.17 681.60 76.67 679.27 80 677 C83.33 674.73 86.67 672.33 90 670 C93.33 667.67 96.67 665.38 100 663 C103.33 660.62 107.02 657.70 110 655.7 C112.98 653.70 115.97 652.15 117.9 651 C119.83 649.85 120.98 649.17 121.6 648.8" fill="none" stroke="url(#cg1)" stroke-width="6.1" stroke-linecap="round" stroke-linejoin="round"/>
<linearGradient id="cg2" gradientUnits="userSpaceOnUse" x1="124.8" y1="646.6" x2="165" y2="631"><stop offset="0" stop-color="#ffffff"/><stop offset="1" stop-color="#ffffff"/></linearGradient>
<path d="M124.8 646.6 C125.88 645.90 127.93 644.08 131.3 642.4 C134.67 640.72 140.55 638.02 145 636.5 C149.45 634.98 154.67 634.22 158 633.3 C161.33 632.38 163.83 631.38 165 631" fill="none" stroke="#17a050" stroke-width="9.8" stroke-linecap="round" stroke-linejoin="round"/>
<path d="M124.8 646.6 C125.88 645.90 127.93 644.08 131.3 642.4 C134.67 640.72 140.55 638.02 145 636.5 C149.45 634.98 154.67 634.22 158 633.3 C161.33 632.38 163.83 631.38 165 631" fill="none" stroke="url(#cg2)" stroke-width="6.700000000000001" stroke-linecap="round" stroke-linejoin="round"/>
<linearGradient id="cg3" gradientUnits="userSpaceOnUse" x1="164" y1="629" x2="181.6" y2="622.5"><stop offset="0" stop-color="#ffffff"/><stop offset="1" stop-color="#ffffff"/></linearGradient>
<path d="M164 629 C165.33 628.38 169.07 626.38 172 625.3 C174.93 624.22 180.00 622.97 181.6 622.5" fill="none" stroke="#17a050" stroke-width="9.6" stroke-linecap="round" stroke-linejoin="round"/>
<path d="M164 629 C165.33 628.38 169.07 626.38 172 625.3 C174.93 624.22 180.00 622.97 181.6 622.5" fill="none" stroke="url(#cg3)" stroke-width="6.5" stroke-linecap="round" stroke-linejoin="round"/>
<linearGradient id="cg4" gradientUnits="userSpaceOnUse" x1="185" y1="622.8" x2="242.3" y2="659"><stop offset="0" stop-color="#ffffff"/><stop offset="0.25" stop-color="#fffae0"/><stop offset="0.36" stop-color="#f8d848"/><stop offset="0.5" stop-color="#f4a034"/><stop offset="0.65" stop-color="#e8582a"/><stop offset="0.82" stop-color="#c02a20"/><stop offset="1" stop-color="#3a0404"/></linearGradient>
<path d="M185 622.8 C186.92 622.75 193.50 622.22 196.5 622.5 C199.50 622.78 200.92 623.25 203 624.5 C205.08 625.75 207.07 628.03 209 630 C210.93 631.97 211.23 633.55 214.6 636.3 C217.97 639.05 225.30 643.55 229.2 646.5 C233.10 649.45 235.82 651.92 238 654 C240.18 656.08 241.58 658.17 242.3 659" fill="none" stroke="#17a050" stroke-width="10.2" stroke-linecap="round" stroke-linejoin="round"/>
<path d="M185 622.8 C186.92 622.75 193.50 622.22 196.5 622.5 C199.50 622.78 200.92 623.25 203 624.5 C205.08 625.75 207.07 628.03 209 630 C210.93 631.97 211.23 633.55 214.6 636.3 C217.97 639.05 225.30 643.55 229.2 646.5 C233.10 649.45 235.82 651.92 238 654 C240.18 656.08 241.58 658.17 242.3 659" fill="none" stroke="url(#cg4)" stroke-width="7.1" stroke-linecap="round" stroke-linejoin="round"/>
<linearGradient id="cg5" gradientUnits="userSpaceOnUse" x1="169.6" y1="593" x2="225.3" y2="626.2"><stop offset="0" stop-color="#3a0505"/><stop offset="0.15" stop-color="#b82620"/><stop offset="0.32" stop-color="#e0482a"/><stop offset="0.45" stop-color="#f08a30"/><stop offset="0.55" stop-color="#f8cc48"/><stop offset="0.66" stop-color="#fff0b8"/><stop offset="0.74" stop-color="#ffffff"/><stop offset="1" stop-color="#ffffff"/></linearGradient>
<path d="M169.6 593 C171.65 594.10 178.03 597.40 181.9 599.6 C185.77 601.80 190.00 604.13 192.8 606.2 C195.60 608.27 195.83 609.82 198.7 612 C201.57 614.18 206.37 617.50 210 619.3 C213.63 621.10 217.95 621.65 220.5 622.8 C223.05 623.95 224.50 625.63 225.3 626.2" fill="none" stroke="#17a050" stroke-width="9.8" stroke-linecap="round" stroke-linejoin="round"/>
<path d="M169.6 593 C171.65 594.10 178.03 597.40 181.9 599.6 C185.77 601.80 190.00 604.13 192.8 606.2 C195.60 608.27 195.83 609.82 198.7 612 C201.57 614.18 206.37 617.50 210 619.3 C213.63 621.10 217.95 621.65 220.5 622.8 C223.05 623.95 224.50 625.63 225.3 626.2" fill="none" stroke="url(#cg5)" stroke-width="6.700000000000001" stroke-linecap="round" stroke-linejoin="round"/>
<linearGradient id="cg6" gradientUnits="userSpaceOnUse" x1="228.3" y1="628.4" x2="268.8" y2="651"><stop offset="0" stop-color="#ffffff"/><stop offset="0.45" stop-color="#fffbe8"/><stop offset="0.7" stop-color="#fbe68a"/><stop offset="1" stop-color="#f6c24a"/></linearGradient>
<path d="M228.3 628.4 C231.08 629.95 240.88 635.47 245 637.7 C249.12 639.93 250.33 640.33 253 641.8 C255.67 643.27 258.37 644.97 261 646.5 C263.63 648.03 267.50 650.25 268.8 651" fill="none" stroke="#17a050" stroke-width="10.4" stroke-linecap="round" stroke-linejoin="round"/>
<path d="M228.3 628.4 C231.08 629.95 240.88 635.47 245 637.7 C249.12 639.93 250.33 640.33 253 641.8 C255.67 643.27 258.37 644.97 261 646.5 C263.63 648.03 267.50 650.25 268.8 651" fill="none" stroke="url(#cg6)" stroke-width="7.300000000000001" stroke-linecap="round" stroke-linejoin="round"/>
<linearGradient id="cg7" gradientUnits="userSpaceOnUse" x1="272.2" y1="653.7" x2="293.5" y2="683"><stop offset="0" stop-color="#f09030"/><stop offset="0.3" stop-color="#ea6a2c"/><stop offset="0.6" stop-color="#d83a26"/><stop offset="0.85" stop-color="#961818"/><stop offset="1" stop-color="#3a0404"/></linearGradient>
<path d="M272.2 653.7 C273.02 655.10 274.93 659.08 277.1 662.1 C279.27 665.12 283.08 669.07 285.2 671.8 C287.32 674.53 288.42 676.63 289.8 678.5 C291.18 680.37 292.88 682.25 293.5 683" fill="none" stroke="#17a050" stroke-width="9.8" stroke-linecap="round" stroke-linejoin="round"/>
<path d="M272.2 653.7 C273.02 655.10 274.93 659.08 277.1 662.1 C279.27 665.12 283.08 669.07 285.2 671.8 C287.32 674.53 288.42 676.63 289.8 678.5 C291.18 680.37 292.88 682.25 293.5 683" fill="none" stroke="url(#cg7)" stroke-width="6.700000000000001" stroke-linecap="round" stroke-linejoin="round"/>
<text x="253.1" y="614.4" font-size="14" text-anchor="middle" fill="#111">B</text>
<line x1="255" y1="616.5" x2="255" y2="626" stroke="#000" stroke-width="2.2"/>
<path d="M249.6 620.8 L255 631.6 L260.4 620.8 L255 624Z" fill="#000"/>
<text x="262.5" y="699" font-size="13.5" text-anchor="middle" fill="#111">A</text>
<line x1="265.2" y1="686.8" x2="269.8" y2="679.5" stroke="#000" stroke-width="2.2"/>
<path d="M273.3 674.4 L272.3 685.2 L269.8 679.5 L263.7 679.4Z" fill="#000"/>
<rect x="277.3" y="710.2" width="12.9" height="4.3" fill="#fff"/>
</g>
<rect x="30.8" y="726.3" width="235.2" height="23.5" fill="url(#cbar)"/>
<text x="37.2" y="767.5" font-size="14.5">0 h</text>
<text x="111.7" y="769" font-size="14.5">Cell wall age</text>
<text x="247.4" y="767.5" font-size="14.5">&gt;8h</text>
<text x="332" y="568.8" font-size="21" font-weight="bold">e</text>
<text x="359.4" y="573.3" font-size="14.5" font-style="italic">M. smegmatis</text>
<text x="359.4" y="689.4" font-size="14.5" font-style="italic">M. tuberculosis</text>
<rect x="383.8" y="602.4" width="18.6" height="46.60000000000002" rx="9.3" fill="#d9d9d9"/>
<rect x="383.8" y="609.6" width="18.6" height="30.799999999999955" fill="#075f31"/>
<rect x="415.7" y="589.4" width="18.6" height="59.60000000000002" rx="9.3" fill="#d9d9d9"/>
<rect x="415.7" y="609.6" width="18.6" height="30.799999999999955" fill="#075f31"/>
<rect x="447.6" y="575" width="18.6" height="74" rx="9.3" fill="#d9d9d9"/>
<rect x="447.6" y="609.6" width="18.6" height="30.799999999999955" fill="#075f31"/>
<rect x="480" y="560.8" width="18.6" height="92.40000000000009" rx="9.3" fill="#d9d9d9"/>
<rect x="480" y="609.6" width="18.6" height="30.799999999999955" fill="#075f31"/>
<rect x="383.8" y="712.7" width="18.6" height="46.09999999999991" rx="9.3" fill="#d9d9d9"/>
<rect x="383.8" y="720.5" width="18.6" height="30.799999999999955" fill="#075f31"/>
<rect x="415.7" y="703.3" width="18.6" height="55.5" rx="9.3" fill="#d9d9d9"/>
<rect x="415.7" y="720.5" width="18.6" height="30.799999999999955" fill="#075f31"/>
<rect x="447.6" y="694.1" width="18.6" height="74.10000000000002" rx="9.3" fill="#d9d9d9"/>
<rect x="447.6" y="720.5" width="18.6" height="30.799999999999955" fill="#075f31"/>
<rect x="480" y="683.9" width="18.6" height="92.10000000000002" rx="9.3" fill="#d9d9d9"/>
<rect x="480" y="720.5" width="18.6" height="30.799999999999955" fill="#075f31"/>
<rect x="582.9" y="557.6" width="18.6" height="46.10000000000002" rx="9.3" fill="#d9d9d9"/>
<rect x="582.9" y="590" width="18.6" height="6.2000000000000455" fill="#075f31"/>
<rect x="582.9" y="611.6" width="18.6" height="46.0" rx="9.3" fill="#d9d9d9"/>
<rect x="582.9" y="620.3" width="18.6" height="24.600000000000023" fill="#075f31"/>
<rect x="582.9" y="680.3" width="18.6" height="46.40000000000009" rx="9.3" fill="#d9d9d9"/>
<rect x="582.9" y="706.2" width="18.6" height="12.599999999999909" fill="#075f31"/>
<rect x="582.9" y="734.6" width="18.6" height="46.0" rx="9.3" fill="#d9d9d9"/>
<rect x="582.9" y="744.2" width="18.6" height="18.399999999999977" fill="#075f31"/>
<line x1="528" y1="589.7" x2="550" y2="589.7" stroke="#000" stroke-width="1.5"/>
<path d="M546.4 584.7 L557.8 589.7 L546.4 594.7 L548.5 589.7Z" fill="#000"/>
<line x1="528" y1="631.2" x2="550" y2="631.2" stroke="#000" stroke-width="1.5"/>
<path d="M546.4 626.2 L557.8 631.2 L546.4 636.2 L548.5 631.2Z" fill="#000"/>
<line x1="528" y1="712.7" x2="550" y2="712.7" stroke="#000" stroke-width="1.5"/>
<path d="M546.4 707.7 L557.8 712.7 L546.4 717.7 L548.5 712.7Z" fill="#000"/>
<line x1="528" y1="754.2" x2="550" y2="754.2" stroke="#000" stroke-width="1.5"/>
<path d="M546.4 749.2 L557.8 754.2 L546.4 759.2 L548.5 754.2Z" fill="#000"/>
</svg></body></html>
